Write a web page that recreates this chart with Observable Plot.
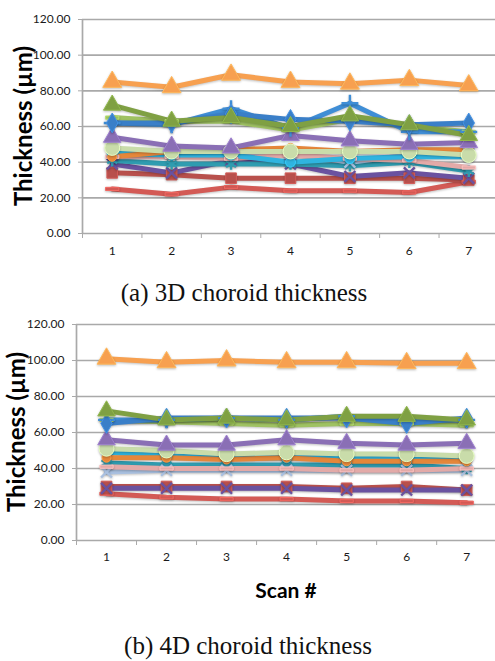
<!DOCTYPE html>
<html>
<head>
<meta charset="utf-8">
<script src="https://cdn.jsdelivr.net/npm/d3@7"></script>
<script src="https://cdn.jsdelivr.net/npm/@observablehq/plot@0.6"></script>
<style>
  html, body { margin: 0; padding: 0; background: #fff; }
  #page { position: relative; width: 495px; height: 661px; overflow: hidden; background: #fff; }
  .chart { position: absolute; left: 0; }
  .ylab { position: absolute; font-family: Lato, "Open Sans", sans-serif; font-weight: 700; font-size: 24px; color: #000;
          white-space: nowrap; transform: translate(-50%, -50%) rotate(-90deg); }
  .xlab { position: absolute; font-family: Lato, "Open Sans", sans-serif; font-weight: 700; font-size: 21px; color: #000;
          white-space: nowrap; transform: translate(-50%, -50%); }
  .cap { position: absolute; font-family: "Liberation Serif", "Times New Roman", serif; font-size: 25px; color: #111;
         white-space: nowrap; transform: translate(-50%, -50%); }
</style>
</head>
<body>
<div id="page"></div>
<script>
// ---------- data ----------
const scans = [1, 2, 3, 4, 5, 6, 7];
const scanBoundaries = [0.5, 1.5, 2.5, 3.5, 4.5, 5.5, 6.5, 7.5];
const yTicks = [0, 20, 40, 60, 80, 100, 120];

const seriesNames = ["red", "darkred", "darkpurple", "teal", "lightblue", "pink", "cyan",
  "darkorange", "palegreen", "purple", "lightgreen", "blue2", "blue", "olive", "orange"];

// (a) 3D choroid thickness
const t3D_red        = [25, 22, 26, 24, 24, 23, 29];
const t3D_darkred    = [34, 33, 31, 31, 31, 31, 30];
const t3D_darkpurple = [39, 34, 41, 39, 32, 34, 31];
const t3D_teal       = [41, 39, 39, 39, 38, 40, 35];
const t3D_lightblue  = [46, 45, 44, 45, 40, 44, 45];
const t3D_pink       = [43, 43, 42, 44, 42, 41, 37];
const t3D_cyan       = [45, 44, 44, 40, 42, 43, 43];
const t3D_darkorange = [43, 46, 47, 48, 46, 47, 47];
const t3D_palegreen  = [48, 46, 46, 46, 46, 46, 44];
const t3D_purple     = [54, 49, 48, 55, 52, 50, 51];
const t3D_lightgreen = [65, 63, 63, 58, 64, 60, 57];
const t3D_blue2      = [62, 61, 70, 59, 73, 57, 57];
const t3D_blue       = [62, 62, 67, 64, 63, 61, 62];
const t3D_olive      = [72, 63, 65, 60, 66, 61, 55];
const t3D_orange     = [85, 82, 89, 85, 84, 86, 83];

// (b) 4D choroid thickness
const t4D_red        = [26, 24, 23, 23, 22, 22, 21];
const t4D_darkred    = [30, 30, 30, 30, 29, 30, 28];
const t4D_darkpurple = [29, 29, 29, 29, 28, 28, 28];
const t4D_teal       = [43, 42, 42, 42, 42, 42, 40];
const t4D_lightblue  = [38, 39, 39, 39, 39, 39, 39];
const t4D_pink       = [41, 40, 40, 40, 39, 39, 40];
const t4D_cyan       = [49, 47, 46, 46, 46, 45, 45];
const t4D_darkorange = [46, 46, 45, 46, 44, 44, 44];
const t4D_palegreen  = [51, 50, 48, 49, 48, 48, 47];
const t4D_purple     = [56, 53, 53, 56, 54, 53, 54];
const t4D_lightgreen = [67, 66, 65, 64, 65, 65, 64];
const t4D_blue2      = [67, 67, 68, 67, 69, 67, 67];
const t4D_blue       = [65, 68, 68, 68, 68, 65, 68];
const t4D_olive      = [72, 67, 68, 67, 69, 69, 67];
const t4D_orange     = [101, 99, 100, 99, 99, 98.5, 98.5];

const values3D = {red: t3D_red, darkred: t3D_darkred, darkpurple: t3D_darkpurple, teal: t3D_teal,
  lightblue: t3D_lightblue, pink: t3D_pink, cyan: t3D_cyan, darkorange: t3D_darkorange,
  palegreen: t3D_palegreen, purple: t3D_purple, lightgreen: t3D_lightgreen, blue2: t3D_blue2,
  blue: t3D_blue, olive: t3D_olive, orange: t3D_orange};
const values4D = {red: t4D_red, darkred: t4D_darkred, darkpurple: t4D_darkpurple, teal: t4D_teal,
  lightblue: t4D_lightblue, pink: t4D_pink, cyan: t4D_cyan, darkorange: t4D_darkorange,
  palegreen: t4D_palegreen, purple: t4D_purple, lightgreen: t4D_lightgreen, blue2: t4D_blue2,
  blue: t4D_blue, olive: t4D_olive, orange: t4D_orange};

// ---------- styles ----------
const dashSymbol = {
  draw(ctx, size) {
    const w = Math.sqrt(size) * 0.75, h = 1.6;
    ctx.moveTo(-w, -h); ctx.lineTo(w, -h); ctx.lineTo(w, h); ctx.lineTo(-w, h); ctx.closePath();
  }
};
const styles = {
  red:        {color: "#d35a55", symbol: dashSymbol, r: 5},
  darkred:    {color: "#b8504c", symbol: "square", r: 6},
  darkpurple: {color: "#6a52a0", symbol: "times", r: 5},
  teal:       {color: "#2f9cb0", symbol: "asterisk", r: 5.5},
  lightblue:  {color: "#a9c0e0", symbol: "times", r: 5},
  pink:       {color: "#e3aaa8", symbol: dashSymbol, r: 5},
  cyan:       {color: "#2fb4e0", symbol: "circle", r: 5},
  darkorange: {color: "#e5873a", symbol: "circle", r: 4.5},
  palegreen:  {color: "#c9dcaa", symbol: "circle", r: 7.5},
  purple:     {color: "#8a6fb5", symbol: "triangle", r: 6.5},
  lightgreen: {color: "#9fc262", symbol: dashSymbol, r: 5},
  blue2:      {color: "#3f8ed6", symbol: "plus", r: 5.5},
  blue:       {color: "#3a7fc8", symbol: "diamond", r: 6},
  olive:      {color: "#7fa043", symbol: "triangle", r: 6.5},
  orange:     {color: "#f7a050", symbol: "triangle", r: 7}
};
const strokeSymbols = new Set(["times", "plus", "asterisk"]);

const gray = "#a9a9a9";

function makeChart(values, {height, marginLeft, marginBottom, xMax, tickPad}) {
  const marks = [
    Plot.gridY(yTicks, {stroke: gray, strokeOpacity: 1, strokeWidth: 1.7}),
    Plot.ruleX([0.5], {y1: 0, y2: 120, stroke: gray, strokeWidth: 1.7}),
    Plot.axisY(yTicks, {tickFormat: d => d.toFixed(2), tickSize: 4, tickPadding: 8, stroke: gray,
      fill: "#1a1a1a", label: null, fontSize: 12}),
    Plot.axisX(scanBoundaries, {tickFormat: () => "", tickSize: 5, stroke: gray, label: null}),
    Plot.axisX(scans, {tickSize: 0, tickPadding: tickPad, fill: "#1a1a1a", label: null, fontSize: 12})
  ];
  for (const name of seriesNames) {
    const vals = values[name];
    const s = styles[name];
    marks.push(Plot.line(vals, {x: (d, i) => scans[i], y: d => d, stroke: s.color, strokeWidth: 5,
      strokeLinejoin: "round", strokeLinecap: "round"}));
  }
  for (const name of seriesNames) {
    const vals = values[name];
    const s = styles[name];
    if (typeof s.symbol === "string" && strokeSymbols.has(s.symbol)) {
      marks.push(Plot.dot(vals, {x: (d, i) => scans[i], y: d => d, symbol: s.symbol, r: s.r,
        stroke: s.color, strokeWidth: 2.4}));
    } else {
      marks.push(Plot.dot(vals, {x: (d, i) => scans[i], y: d => d, symbol: s.symbol, r: s.r,
        fill: s.color, stroke: d3.color(s.color).brighter(0.4).formatHex(), strokeWidth: 1}));
    }
  }
  const svg = Plot.plot({
    width: 495, height, marginLeft, marginRight: 0, marginTop: 19, marginBottom,
    style: {fontFamily: "Lato, 'Open Sans', sans-serif", fontSize: "12px", background: "transparent", overflow: "hidden"},
    x: {domain: [0.5, xMax]},
    y: {domain: [0, 120]},
    marks
  });
  svg.querySelectorAll('g[aria-label="line"], g[aria-label="dot"]').forEach(g => {
    g.style.filter = "drop-shadow(0px 1.5px 1.2px rgba(0,0,0,0.25))";
  });
  return svg;
}

const page = document.getElementById("page");

const c1 = makeChart(values3D, {height: 265, marginLeft: 82, marginBottom: 32, xMax: 7.45, tickPad: 13});
c1.classList.add("chart"); c1.style.top = "0px"; page.appendChild(c1);

const c2 = makeChart(values4D, {height: 270, marginLeft: 76, marginBottom: 35, xMax: 7.48, tickPad: 12});
c2.classList.add("chart"); c2.style.top = "305px"; page.appendChild(c2);

function addDiv(cls, text, x, y) {
  const d = document.createElement("div");
  d.className = cls; d.textContent = text;
  d.style.left = x + "px"; d.style.top = y + "px";
  page.appendChild(d);
}
addDiv("ylab", "Thickness (µm)", 22, 126);
addDiv("ylab", "Thickness (µm)", 15, 432);
addDiv("xlab", "Scan #", 286, 589);
addDiv("cap", "(a) 3D choroid thickness", 244, 293);
addDiv("cap", "(b) 4D choroid thickness", 248, 646);
</script>
</body>
</html>
